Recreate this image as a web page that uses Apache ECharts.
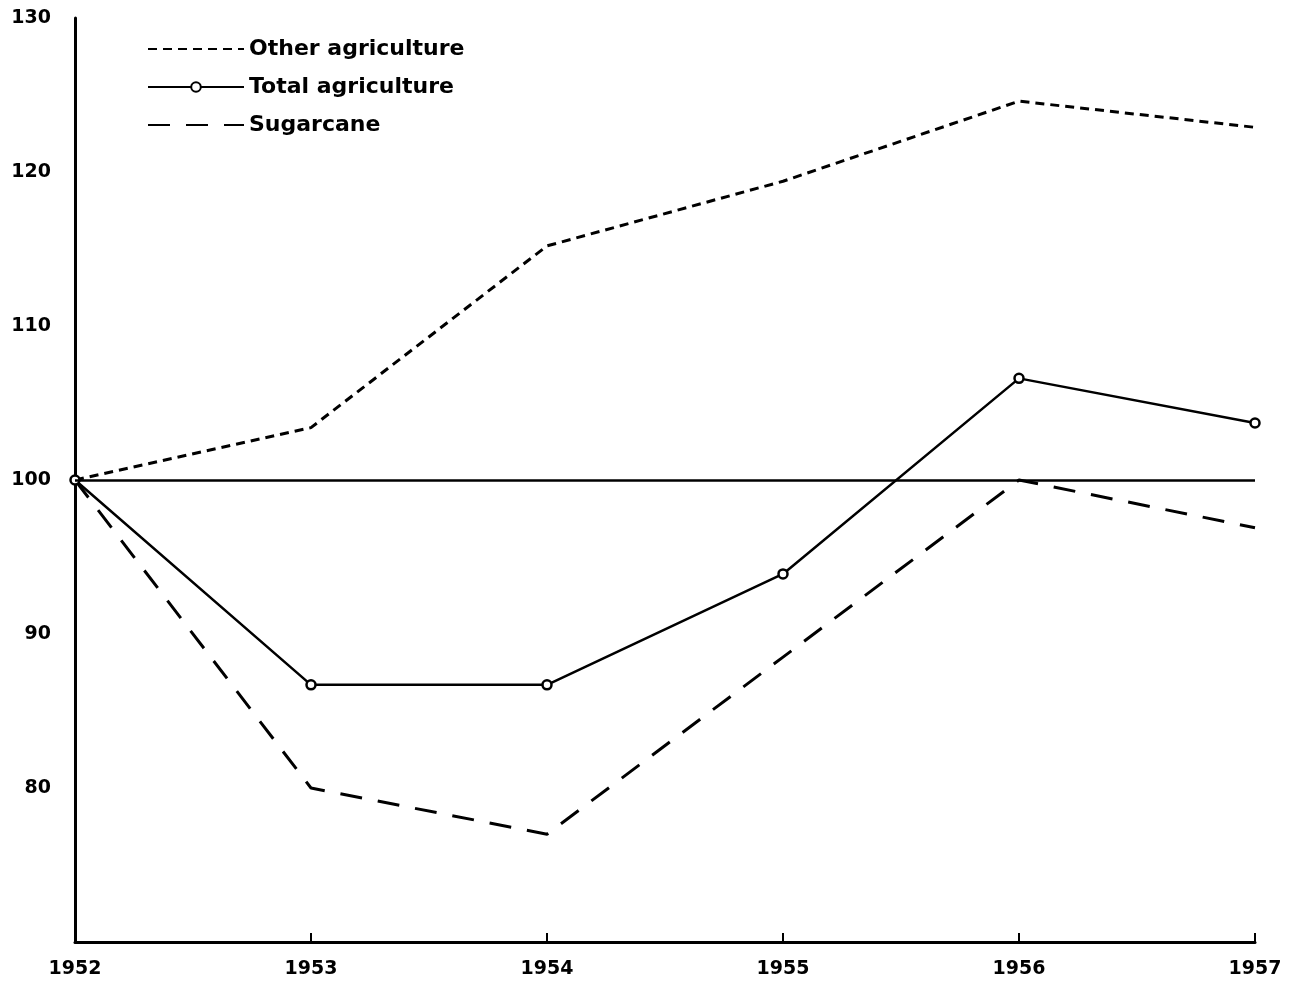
<!DOCTYPE html>
<html>
<head>
<meta charset="utf-8">
<script src="https://cdn.jsdelivr.net/npm/echarts@6/dist/echarts.min.js"></script>
<style>
html,body{margin:0;padding:0;background:#fff;}
#chart{width:1308px;height:985px;}
</style>
</head>
<body>
<div id="chart"></div>
<script>
var years = ['1952', '1953', '1954', '1955', '1956', '1957'];
var otherAgriculture = [100, 103.4, 115.2, 119.4, 124.6, 122.9];
var totalAgriculture = [100, 86.7, 86.7, 93.9, 106.6, 103.7];
var sugarcane = [100, 80.0, 77.0, 88.5, 100.0, 96.9];
var yTickLabels = ['80', '90', '100', '110', '120', '130'];

var chart = echarts.init(document.getElementById('chart'));
var font = 'DejaVu Sans';
var hidden = { color: 'rgba(0,0,0,0)', borderWidth: 0, borderColor: 'rgba(0,0,0,0)' };
chart.setOption({
  animation: false,
  backgroundColor: '#fff',
  grid: { left: 75, right: 53, top: 18, bottom: 43 },
  legend: {
    orient: 'vertical',
    left: 142,
    top: 33,
    itemWidth: 96,
    itemHeight: 12,
    itemGap: 16,
    textStyle: { fontFamily: font, fontWeight: 'bold', fontSize: 22, color: '#000' },
    data: [
      { name: 'Other agriculture', itemStyle: hidden },
      { name: 'Total agriculture' },
      { name: 'Sugarcane', itemStyle: hidden }
    ]
  },
  xAxis: {
    type: 'category',
    data: years,
    boundaryGap: false,
    axisLine: { lineStyle: { color: '#000', width: 3 } },
    axisTick: { inside: true, length: 9, lineStyle: { color: '#000', width: 2 } },
    axisLabel: { color: '#000', fontFamily: font, fontWeight: 'bold', fontSize: 19, margin: 18 },
    splitLine: { show: false }
  },
  yAxis: {
    type: 'value',
    min: 70,
    max: 130,
    interval: 10,
    axisLine: { show: true, lineStyle: { color: '#000', width: 3 } },
    axisTick: { show: false },
    axisLabel: {
      color: '#000', fontFamily: font, fontWeight: 'bold', fontSize: 19, margin: 24,
      formatter: function (v) { var s = String(v); return yTickLabels.indexOf(s) >= 0 ? s : ''; }
    },
    splitLine: { show: false }
  },
  series: [
    {
      name: 'Other agriculture',
      type: 'line',
      data: otherAgriculture,
      symbol: 'none',
      lineStyle: { color: '#000', width: 3, type: [9, 6] },
      itemStyle: { color: '#000' },
      markLine: {
        silent: true,
        symbol: 'none',
        label: { show: false },
        lineStyle: { color: '#000', width: 2.5, type: 'solid' },
        data: [{ yAxis: 100 }]
      }
    },
    {
      name: 'Total agriculture',
      type: 'line',
      data: totalAgriculture,
      symbol: 'circle',
      symbolSize: 9,
      showSymbol: true,
      lineStyle: { color: '#000', width: 2.5, type: 'solid' },
      itemStyle: { color: '#fff', borderColor: '#000', borderWidth: 2.5 }
    },
    {
      name: 'Sugarcane',
      type: 'line',
      data: sugarcane,
      symbol: 'none',
      lineStyle: { color: '#000', width: 3, type: [22, 16] },
      itemStyle: { color: '#000' }
    }
  ]
});
</script>
</body>
</html>
